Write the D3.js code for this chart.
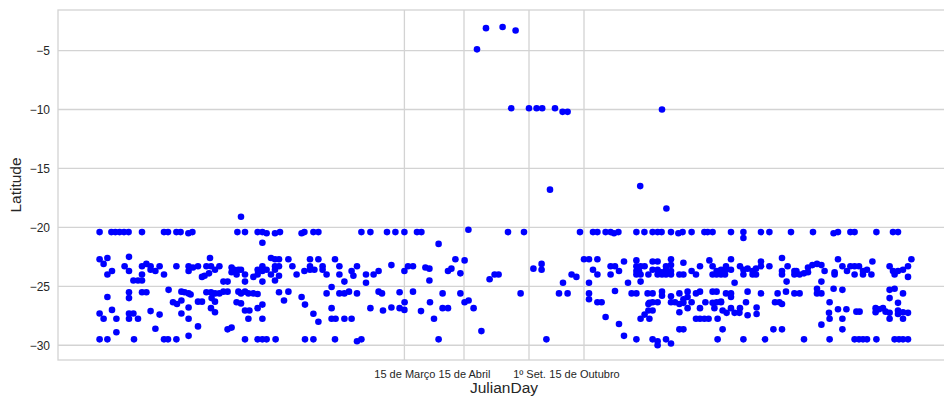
<!DOCTYPE html>
<html>
<head>
<meta charset="utf-8">
<script src="https://cdn.jsdelivr.net/npm/d3@7"></script>
<style>
  html, body { margin: 0; padding: 0; background: #ffffff; }
  svg { display: block; }
  text { font-family: "Liberation Sans", Arial, "DejaVu Sans", sans-serif; fill: #262626; }
</style>
</head>
<body>
<svg id="chart" width="944" height="398"></svg>
<script>
// Observation day (x) and latitude (y) of each record, in the same order.
const julianDay = [
  20.8, 26.7, 28.7, 30.8, 33, 35.3, 42, 53, 55, 59.2, 61.3, 65.2, 67.2,
  20.8, 24.7, 22.8, 35.5, 33.3, 24.7, 27, 35.5, 42, 42, 44.2, 46.3, 46.3, 48.7, 50.8, 53, 59.2, 65.3, 65.3, 67.5, 70, 72, 74.2, 73.3,
  37.7, 40, 42,
  24.7, 35.5, 35.5, 42, 44.2, 55.3, 61.7, 63.3, 65.3, 66.3, 57.5, 59.5, 61.7, 65.3, 70, 72, 74.2,
  20.8, 22.8, 27, 29.2, 35.5, 37.7, 35.5, 40, 46.3, 50.8, 61.7, 65.3,
  29.2, 48.7, 70, 65.3,
  20.8, 24.7, 38, 53, 55, 59.2,

  91.5,
  89.7, 93.5, 99.8, 102.2, 104.3, 108.5, 111, 121.8, 123.2, 127.7, 130.2,
  102.2,
  76, 76.5, 78.5, 80.7, 75.5, 82.7, 84.8, 86.8, 86.8, 88.2, 89.3, 90.2, 91.5, 93.5, 93.5, 97.7, 99.8, 99.8, 102.2, 102.2, 104.3, 102.2, 106.5, 108.5, 110.5, 108.5, 108.5, 110.5, 110.5, 108.5, 106.5, 115.2, 117.2, 119.3, 123.2, 126, 126, 126, 128.2, 130.2, 132.3, 132.3, 134.3, 138.5, 140.7, 140.7, 143.2, 146.8, 147.7,
  76.5, 78.5, 80.7, 82.7, 84.8, 90.2, 91.5, 93.5, 95.2, 97.7, 99.8, 110.5, 115.2, 134.3, 136.8, 140.7, 143.2, 145.5,
  76.8, 78.5, 89.3, 91.5, 102.2, 99.8, 113, 121.8, 123.5, 136.8,
  76.5, 78.5, 93.5, 95.7, 95.2, 102.2, 127.7, 130.2, 136.8, 138.8, 143.2, 146.8,
  84.8, 86.8,
  93.5, 99.8, 102.2, 104.3, 108.8, 123.5, 127.7, 138.5,

  151.7, 156.2, 164.5, 168.7, 173.2, 179.5, 181.7, 205.2, 190.3,
  149.5, 154, 154, 157.8, 160.3, 166.7, 173.2, 175, 177.5, 183.7, 185.7, 185.7, 195, 196.7, 198.7, 201.2, 203.3, 215.8, 218.3, 220.3,
  149.5, 160.3, 162, 170.8, 177.5, 192.3, 201.2, 173.3, 186, 203.3, 205.3,
  156.2, 162.5, 166.7, 170.8, 173.2, 181.5, 192.3, 195, 188, 207.8, 211.7,
  149.5, 151.7, 190.3,

  209.5, 214, 222.3, 228.8, 226.6, 235.5, 239.3, 242.1, 248.5, 252.3, 254.8, 246, 291.1, 302,

  225, 233, 261, 267.5, 269.7, 273.8, 276.3, 278, 280.2, 289.2, 293.2,
  237.7, 241.8, 241.8, 256.8, 259.2, 252.5, 265.5, 263, 265.5, 269.7, 267.5, 269.7, 276.3, 278.5, 276.3, 280.5, 283, 285, 289.2, 289.2, 289.2, 289.2, 291.3, 290.5, 291.3, 293.3, 291.3, 295.2,
  231.3, 250.5, 254.8, 265.5, 265.5, 269.7, 271.8, 278.5, 286.8, 289.2, 295.2, 295.2, 293.3, 291.3, 273.8, 280.5, 283, 289.2, 244.2,

  304.2,
  297.3, 299.8, 301.8, 306.5, 310.2, 312.3, 316.8, 323.2, 324.8, 327.3, 336.5, 342.7, 342.7, 351.5, 355.7, 366.5,
  297.3, 299.8, 297.3, 299.8, 299.8, 301.8, 304, 304, 304, 306.5, 306.5, 306.5, 306.5, 302, 310.7, 312.7, 312.7, 316.8, 319, 321, 325.7, 327.3, 327.3, 329.3, 329.3, 331.5, 331.5, 334, 334, 333.5, 336.5, 336.5, 338.3, 341, 342.7, 342.7, 344.8, 347.3, 347.3, 349, 349, 351.5, 351.5, 355.7, 362, 362, 362, 364.8, 364.3, 368.2, 368.2,
  294.8, 297.3, 302, 302, 306.5, 310.7, 312.7, 314.8, 314.8, 319, 321, 327.3, 329.3, 331.5, 334, 336.5, 336.5, 344.8, 351.5, 359.8, 364, 368.2,
  295.7, 297.3, 299.8, 297.3, 295.7, 306.5, 308.5, 310.7, 312.7, 314.8, 316.8, 321, 323.7, 327.3, 329.3, 331.5, 328.2, 332.3, 336.5, 341, 344, 344.8, 349.3, 349.3, 358.5, 360.7, 362,
  310.7, 319, 321, 323.2, 325.3, 329.8, 334.3, 338.3, 340.7,
  310.7, 312.7, 332.3, 357.7, 362,
  297.3, 299.8, 299.8, 304, 306.5, 329.8, 342.7, 353.5,

  377.5, 387.8, 390, 396.2, 398.3, 409.2, 417.5, 420,
  369.2, 370.8, 373, 375, 375, 377.2, 379.5, 381.7, 383.3, 388.3, 388.3, 390, 392.2, 394.5, 396.2, 398.3, 398.3, 400.5, 402.5, 402.5, 404.5, 406.7, 407.2, 415.8, 417.5, 418.3, 420, 422.5, 425, 425, 426.7, 381.7,
  370.8, 379.5, 379.5, 381.7, 387.8, 392.2, 415.8, 418.3, 422.5, 415.8,
  385.8, 420, 385.5, 390, 394.2, 399.2, 400.8, 408.8, 408.8, 410.5, 412.5, 413.8, 415.8, 420, 420, 422.5, 425,
  385.8, 392.2, 415.8, 422.5, 381.7, 392.2,
  373, 385.8, 398.3, 400.5, 402.5, 404.5, 409.2, 418.3, 420.5, 422.5, 425
];

const latitude = [
  -20.4, -20.4, -20.4, -20.4, -20.4, -20.4, -20.4, -20.4, -20.4, -20.4, -20.4, -20.5, -20.4,
  -22.7, -22.6, -23.1, -22.5, -23.3, -24.0, -23.7, -23.7, -23.3, -24.0, -23.1, -23.3, -23.6, -23.7, -23.3, -24.0, -23.3, -23.3, -23.7, -23.4, -23.3, -24.2, -23.3, -24.1,
  -24.5, -24.5, -24.5,
  -25.9, -25.5, -26.0, -25.5, -25.5, -25.3, -25.45, -25.5, -25.6, -25.7, -26.35, -26.5, -26.2, -26.8, -26.3, -26.3, -25.5,
  -27.3, -27.75, -27.0, -27.75, -27.3, -27.3, -27.75, -27.75, -27.1, -27.4, -27.3, -27.75,
  -28.9, -28.6, -28.4, -29.2,
  -29.5, -29.5, -29.5, -29.5, -29.5, -29.5,

  -19.1,
  -20.4, -20.4, -20.4, -20.4, -20.5, -20.5, -20.4, -20.5, -20.4, -20.4, -20.4,
  -21.3,
  -22.6, -23.3, -23.6, -23.3, -23.9, -24.6, -24.6, -23.4, -23.8, -23.6, -24.0, -23.6, -23.6, -24.0, -24.6, -24.2, -24.0, -23.6, -23.3, -23.7, -23.6, -24.6, -22.6, -22.7, -22.7, -23.3, -23.6, -23.3, -24.1, -24.5, -24.0, -22.7, -23.3, -24.0, -23.7, -22.7, -23.3, -23.6, -23.6, -22.7, -23.3, -23.6, -24.0, -22.7, -23.3, -24.0, -24.6, -23.7, -24.1,
  -25.5, -25.6, -25.6, -25.45, -25.45, -25.45, -25.6, -25.45, -25.6, -25.6, -25.65, -25.5, -25.45, -25.6, -25.06, -25.6, -25.6, -25.45,
  -26.0, -26.3, -26.35, -26.45, -26.55, -26.85, -26.2, -25.9, -26.55, -26.85,
  -26.85, -27.2, -27.05, -27.05, -27.75, -27.75, -27.33, -28.0, -27.75, -27.75, -27.75, -27.75,
  -28.65, -28.5,
  -29.5, -29.5, -29.5, -29.5, -29.5, -29.5, -29.5, -29.5,

  -20.4, -20.4, -20.4, -20.4, -20.4, -20.4, -20.4, -20.2, -21.4,
  -23.3, -24.0, -24.7, -24.0, -23.7, -23.2, -23.7, -23.3, -23.3, -23.4, -23.5, -24.5, -23.7, -23.5, -22.7, -23.9, -22.8, -24.4, -24.0, -24.0,
  -25.6, -25.45, -25.6, -25.5, -25.45, -25.6, -25.6, -26.35, -26.35, -26.35, -26.2,
  -26.85, -27.05, -26.8, -26.85, -27.0, -27.1, -26.85, -26.85, -27.75, -26.85, -28.8,
  -29.66, -29.5, -29.5,

  -4.9, -3.1, -3.0, -3.3, -9.9, -9.9, -9.9, -9.9, -9.9, -10.2, -10.2, -16.8, -16.5, -10.0,

  -20.4, -20.4, -20.4, -20.4, -20.4, -20.4, -20.4, -20.5, -20.4, -20.4, -20.4,
  -23.5, -23.1, -23.6, -24.0, -24.2, -24.7, -24.7, -22.7, -22.7, -22.7, -23.6, -24.0, -23.3, -23.3, -24.0, -23.7, -22.9, -24.7, -22.8, -23.3, -23.7, -24.0, -23.3, -23.7, -24.0, -23.3, -24.6, -24.0,
  -25.6, -25.6, -25.6, -25.6, -26.1, -26.35, -26.35, -25.4, -25.6, -25.6, -26.5, -27.05, -27.4, -27.75, -27.6, -28.2, -29.2, -29.5, -29.5,

  -18.4,
  -20.4, -20.4, -20.4, -20.4, -20.5, -20.4, -20.4, -20.4, -20.4, -20.4, -20.4, -20.4, -20.9, -20.4, -20.4, -20.4,
  -22.9, -22.9, -23.6, -23.6, -24.0, -23.8, -23.3, -23.6, -24.0, -22.7, -23.2, -23.7, -24.0, -24.0, -24.0, -23.0, -24.0, -23.7, -24.0, -23.3, -22.8, -23.3, -24.0, -23.7, -24.0, -23.6, -24.0, -23.3, -23.6, -24.0, -22.7, -23.6, -24.7, -23.3, -23.6, -24.0, -23.5, -23.7, -24.0, -23.5, -24.0, -22.9, -23.3, -23.3, -22.6, -23.7, -24.0, -23.3, -24.6, -23.7, -24.0,
  -25.6, -25.6, -25.45, -25.8, -25.85, -25.6, -26.1, -25.45, -25.9, -25.6, -25.45, -25.45, -25.45, -26.3, -25.6, -25.6, -25.9, -25.45, -25.6, -25.6, -25.45, -25.6,
  -26.4, -26.35, -26.35, -27.05, -27.75, -26.35, -26.35, -26.5, -26.4, -26.85, -26.35, -26.85, -26.35, -26.4, -26.35, -26.35, -26.85, -27.05, -26.85, -26.85, -26.35, -27.45, -26.8, -27.35, -26.35, -26.35, -26.5,
  -27.2, -27.75, -27.75, -27.75, -27.75, -27.75, -27.25, -27.25, -27.25,
  -28.65, -28.65, -28.65, -28.65, -28.65,
  -29.5, -29.66, -30.0, -29.5, -29.85, -29.5, -29.5, -29.5,

  -20.4, -20.5, -20.4, -20.4, -20.4, -20.4, -20.4, -20.4,
  -23.7, -24.0, -23.9, -23.8, -23.4, -23.2, -23.1, -23.2, -23.7, -23.8, -24.0, -22.7, -23.3, -23.7, -23.3, -23.3, -24.0, -23.3, -23.7, -24.0, -23.6, -24.0, -22.9, -23.3, -23.7, -24.0, -23.7, -23.6, -24.2, -23.3, -22.7, -24.6,
  -25.6, -25.2, -25.6, -25.6, -25.2, -25.3, -25.3, -25.2, -25.6, -26.0,
  -26.35, -26.4, -27.25, -26.95, -26.95, -27.15, -27.15, -26.85, -27.2, -26.95, -26.85, -27.15, -27.25, -27.05, -27.35, -27.2, -27.25,
  -27.75, -27.75, -27.75, -27.75, -28.25, -28.65,
  -29.5, -29.5, -29.5, -29.5, -29.5, -29.5, -29.5, -29.5, -29.5, -29.5, -29.5
];

// Labelled reference days on the x axis
const dayTicks = [173.2, 203, 235.5, 263];
const dayTickLabels = ["15 de Março", "15 de Abril", "1º Set.", "15 de Outubro"];
const latTicks = [-30, -25, -20, -15, -10, -5];

const svg = d3.select("#chart");
const plot = { left: 58, top: 10, right: 950, bottom: 360 };
const gridColor = "#d3d3d3";

const x = d3.scaleLinear().domain([0, 446]).range([plot.left, plot.right]);
const y = d3.scaleLinear().domain([-31.25, -1.56]).range([plot.bottom, plot.top]);

// Grid lines
svg.append("g")
  .selectAll("line.hgrid")
  .data(latTicks)
  .join("line")
  .attr("x1", plot.left).attr("x2", plot.right)
  .attr("y1", d => y(d)).attr("y2", d => y(d))
  .attr("stroke", gridColor).attr("stroke-width", 1.3);

svg.append("g")
  .selectAll("line.vgrid")
  .data(dayTicks)
  .join("line")
  .attr("x1", d => x(d)).attr("x2", d => x(d))
  .attr("y1", plot.top).attr("y2", plot.bottom)
  .attr("stroke", gridColor).attr("stroke-width", 1.3);

// Frame
svg.append("rect")
  .attr("x", plot.left).attr("y", plot.top)
  .attr("width", plot.right - plot.left).attr("height", plot.bottom - plot.top)
  .attr("fill", "none").attr("stroke", gridColor).attr("stroke-width", 1.3);

// Axes (labels only, no tick marks)
const yAxis = d3.axisLeft(y).tickValues(latTicks).tickSize(0).tickPadding(8);
const gy = svg.append("g").attr("transform", `translate(${plot.left},0)`).call(yAxis);
gy.select(".domain").remove();
gy.selectAll("text").attr("font-size", 12).attr("fill", "#262626")
  .style("font-family", '"Liberation Sans", Arial, sans-serif');

const xAxis = d3.axisBottom(x).tickValues(dayTicks).tickSize(0).tickPadding(10)
  .tickFormat((d, i) => dayTickLabels[i]);
const gx = svg.append("g").attr("transform", `translate(0,${plot.bottom})`).call(xAxis);
gx.select(".domain").remove();
gx.selectAll("text").attr("font-size", 11).attr("fill", "#262626")
  .style("font-family", '"Liberation Sans", Arial, sans-serif');

// Points
const points = julianDay.map((d, i) => ({ day: d, lat: latitude[i] }));
svg.append("g")
  .selectAll("circle")
  .data(points)
  .join("circle")
  .attr("cx", d => x(d.day))
  .attr("cy", d => y(d.lat))
  .attr("r", 3.3)
  .attr("fill", "#0000ff");

// Axis titles
svg.append("text")
  .attr("x", (plot.left + plot.right) / 2)
  .attr("y", 393)
  .attr("text-anchor", "middle")
  .attr("font-size", 15.5)
  .text("JulianDay");

svg.append("text")
  .attr("transform", `translate(21,${(plot.top + plot.bottom) / 2}) rotate(-90)`)
  .attr("text-anchor", "middle")
  .attr("font-size", 15.5)
  .text("Latitude");
</script>
</body>
</html>
